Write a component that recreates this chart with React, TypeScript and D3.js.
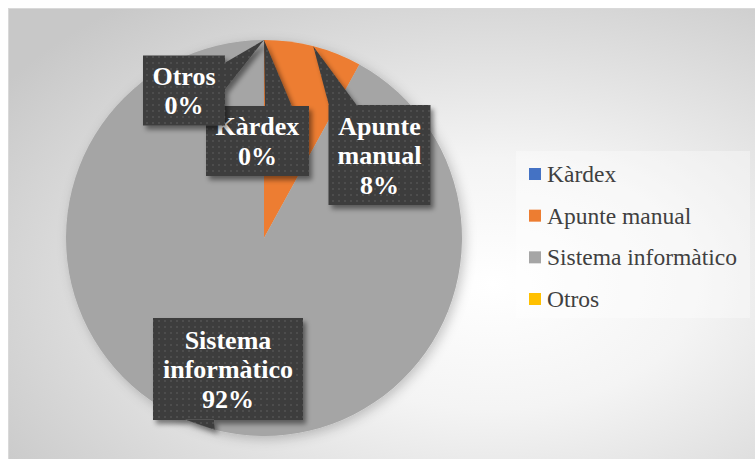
import * as d3 from 'd3';

// chart values
const categories = ['Kàrdex', 'Apunte manual', 'Sistema informàtico', 'Otros'];
const values = [0, 8, 92, 0];
const colors = ['#4472c4', '#ed7d31', '#a5a5a5', '#ffc000'];
// label text lines (category split as in the chart)
const labelLines = [['Kàrdex'], ['Apunte', 'manual'], ['Sistema', 'informàtico'], ['Otros']];

// callout layout: box center, size, side the pointer leaves from and its base span
const callouts = [
  { cx: 257.5, cy: 141, w: 103, h: 70, side: 'top', b0: 265, b1: 292 },
  { cx: 379.5, cy: 155, w: 102, h: 100, side: 'top', b0: 329, b1: 357 },
  { cx: 228, cy: 369, w: 150, h: 102, side: 'bottom', b0: 185, b1: 214 },
  { cx: 184, cy: 90.5, w: 82, h: 70, side: 'right', b0: 63, b1: 90 },
];

const W = 755;
const H = 459;
const cx = 264;
const cy = 238;
const radius = 198;
const FONT = 'Times New Roman';

export default function App() {
  const pie = d3
    .pie<number>()
    .sort(null)
    .value((d) => d)(values);
  const arc = d3.arc<d3.PieArcDatum<number>>().innerRadius(0).outerRadius(radius);
  const total = d3.sum(values);
  const pct = (v: number) => d3.format('.0%')(v / total);

  const tip = (d: d3.PieArcDatum<number>) => {
    const a = (d.startAngle + d.endAngle) / 2;
    return [cx + radius * Math.sin(a), cy - radius * Math.cos(a)];
  };

  const calloutPath = (i: number) => {
    const c = callouts[i];
    const l = c.cx - c.w / 2,
      r = c.cx + c.w / 2,
      t = c.cy - c.h / 2,
      b = c.cy + c.h / 2;
    const [tx, ty] = tip(pie[i]);
    const p = d3.path();
    p.moveTo(l, t);
    p.lineTo(r, t);
    p.lineTo(r, b);
    p.lineTo(l, b);
    p.closePath();
    if (c.side === 'top') {
      p.moveTo(c.b0, t + 0.5);
      p.lineTo(tx, ty);
      p.lineTo(c.b1, t + 0.5);
    } else if (c.side === 'bottom') {
      p.moveTo(c.b0, b - 0.5);
      p.lineTo(tx, ty);
      p.lineTo(c.b1, b - 0.5);
    } else if (c.side === 'right') {
      p.moveTo(r - 0.5, c.b0);
      p.lineTo(tx, ty);
      p.lineTo(r - 0.5, c.b1);
    } else {
      p.moveTo(l + 0.5, c.b0);
      p.lineTo(tx, ty);
      p.lineTo(l + 0.5, c.b1);
    }
    p.closePath();
    return p.toString();
  };

  const lineH = 29.5;
  const legendY = d3.scalePoint<string>().domain(categories).range([174, 299]);

  return (
    <svg width={W} height={H} style={{ position: 'absolute', left: 0, top: 0 }}>
      <defs>
        <radialGradient id="bg" cx="0.64" cy="0.6" r="0.78">
          <stop offset="0" stopColor="#ffffff" />
          <stop offset="0.35" stopColor="#f4f4f4" />
          <stop offset="1" stopColor="#c8c8c8" />
        </radialGradient>
        <pattern id="dots" width="6" height="6" patternUnits="userSpaceOnUse">
          <rect width="6" height="6" fill="#3e3e3e" />
          <rect x="2" y="2" width="2" height="2" fill="#4e4e4e" />
        </pattern>
        <filter id="pieShadow" x="-20%" y="-20%" width="140%" height="140%">
          <feDropShadow dx="3" dy="3" stdDeviation="6" floodColor="#000" floodOpacity="0.22" />
        </filter>
        <filter id="boxShadow" x="-20%" y="-20%" width="140%" height="140%">
          <feDropShadow dx="3" dy="4" stdDeviation="2.5" floodColor="#000" floodOpacity="0.45" />
        </filter>
      </defs>

      <rect x={8.5} y={8.5} width={W} height={H} fill="url(#bg)" stroke="#d9d9d9" />

      <g transform={`translate(${cx},${cy})`} filter="url(#pieShadow)">
        {pie.map((d, i) => (
          <path key={categories[i]} d={arc(d) || ''} fill={colors[i]} />
        ))}
      </g>

      {pie.map((d, i) => {
        const c = callouts[i];
        const lines = [...labelLines[i], pct(d.data)];
        const y0 = c.cy - ((lines.length - 1) * lineH) / 2 + 9;
        return (
          <g key={'lab' + i}>
            <path d={calloutPath(i)} fill="url(#dots)" filter="url(#boxShadow)" />
            {lines.map((s, k) => (
              <text
                key={k}
                x={c.cx}
                y={y0 + k * lineH}
                textAnchor="middle"
                fill="#ffffff"
                fontFamily={FONT}
                fontWeight="bold"
                fontSize={26}
                style={{ fontFamily: FONT }}
              >
                {s}
              </text>
            ))}
          </g>
        );
      })}

      <rect x={516} y={151} width={234} height={167} fill="#ffffff" fillOpacity={0.35} />
      {categories.map((c, i) => (
        <rect key={'sw' + c} x={529} y={(legendY(c) || 0) - 6} width={12} height={12} fill={colors[i]} />
      ))}
      {categories.map((c) => (
        <text
          key={'lt' + c}
          x={547}
          y={(legendY(c) || 0) + 8}
          fill="#404040"
          fontFamily={FONT}
          fontSize={23.5}
          style={{ fontFamily: FONT }}
        >
          {c}
        </text>
      ))}
    </svg>
  );
}
